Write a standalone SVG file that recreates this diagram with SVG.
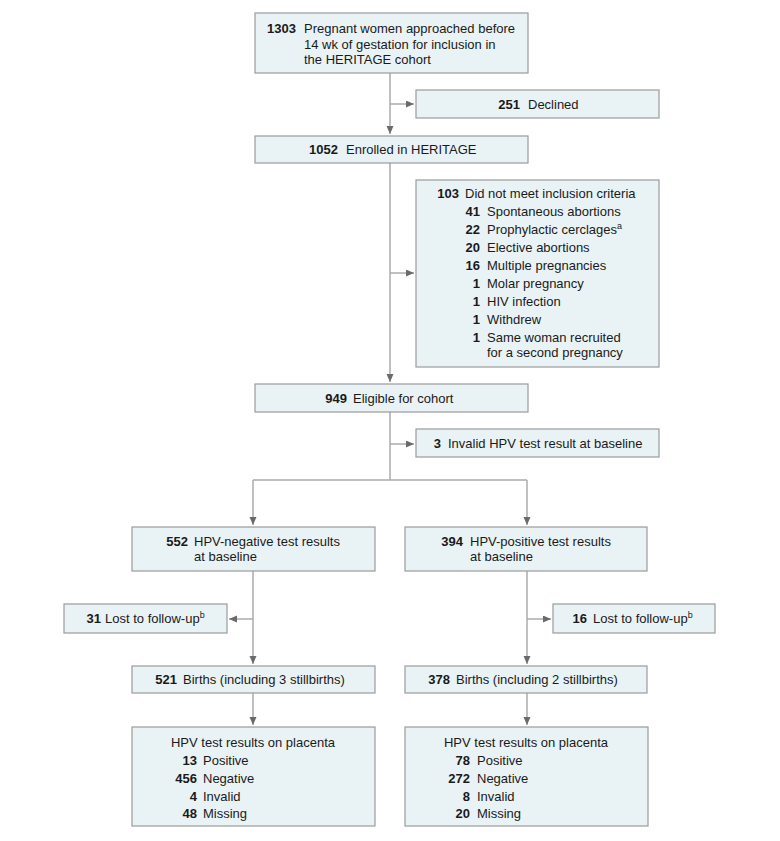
<svg xmlns="http://www.w3.org/2000/svg" width="780" height="841" viewBox="0 0 780 841">
<defs>
<style>
.box{fill:#e9f3f5;stroke:#9b9b9b;stroke-width:1.2}
.t{font-family:"Liberation Sans",Arial,sans-serif;font-size:13px;fill:#1a1a1a}
.n{font-weight:bold;text-anchor:end}
.c{text-anchor:middle}
.sup{font-size:9px}
.ln{fill:none;stroke:#ababab;stroke-width:1.5}
</style>
<marker id="ah" markerUnits="userSpaceOnUse" markerWidth="9" markerHeight="8" refX="8" refY="3.5" orient="auto">
<path d="M0,0 L8,3.5 L0,7 z" fill="#6a6a6a"/>
</marker>
</defs>
<rect width="780" height="841" fill="#ffffff"/>

<g id="connectors">
<path class="ln" d="M390,73 V134" marker-end="url(#ah)"/>
<path class="ln" d="M390,104 H414" marker-end="url(#ah)"/>
<path class="ln" d="M390,163 V382" marker-end="url(#ah)"/>
<path class="ln" d="M390,273 H414" marker-end="url(#ah)"/>
<path class="ln" d="M390,412 V480"/>
<path class="ln" d="M390,444 H414" marker-end="url(#ah)"/>
<path class="ln" d="M253,480 H527"/>
<path class="ln" d="M253,480 V525" marker-end="url(#ah)"/>
<path class="ln" d="M527,480 V525" marker-end="url(#ah)"/>
<path class="ln" d="M253,571 V664" marker-end="url(#ah)"/>
<path class="ln" d="M253,619 H229" marker-end="url(#ah)"/>
<path class="ln" d="M527,571 V664" marker-end="url(#ah)"/>
<path class="ln" d="M527,619 H551" marker-end="url(#ah)"/>
<path class="ln" d="M253,693 V725" marker-end="url(#ah)"/>
<path class="ln" d="M527,693 V725" marker-end="url(#ah)"/>
</g>

<g id="approached">
<rect class="box" x="255" y="13" width="273" height="60"/>
<text class="t n" x="296" y="33">1303</text>
<text class="t" x="304" y="33">Pregnant women approached before</text>
<text class="t" x="304" y="48.5">14 wk of gestation for inclusion in</text>
<text class="t" x="304" y="64">the HERITAGE cohort</text>
</g>

<g id="declined">
<rect class="box" x="416" y="90" width="243" height="28"/>
<text class="t n" x="520" y="109">251</text>
<text class="t" x="528" y="109">Declined</text>
</g>

<g id="enrolled">
<rect class="box" x="255" y="136" width="273" height="27"/>
<text class="t n" x="338" y="154">1052</text>
<text class="t" x="346" y="154">Enrolled in HERITAGE</text>
</g>

<g id="excluded">
<rect class="box" x="416" y="180" width="243" height="187"/>
<text class="t n" x="459" y="198">103</text>
<text class="t" x="465" y="198">Did not meet inclusion criteria</text>
<text class="t n" x="480" y="216">41</text>
<text class="t" x="487" y="216">Spontaneous abortions</text>
<text class="t n" x="480" y="234">22</text>
<text class="t" x="487" y="234">Prophylactic cerclages<tspan class="sup" dy="-5">a</tspan></text>
<text class="t n" x="480" y="252">20</text>
<text class="t" x="487" y="252">Elective abortions</text>
<text class="t n" x="480" y="270">16</text>
<text class="t" x="487" y="270">Multiple pregnancies</text>
<text class="t n" x="480" y="288">1</text>
<text class="t" x="487" y="288">Molar pregnancy</text>
<text class="t n" x="480" y="306">1</text>
<text class="t" x="487" y="306">HIV infection</text>
<text class="t n" x="480" y="324">1</text>
<text class="t" x="487" y="324">Withdrew</text>
<text class="t n" x="480" y="342">1</text>
<text class="t" x="487" y="342">Same woman recruited</text>
<text class="t" x="487" y="357">for a second pregnancy</text>
</g>

<g id="eligible">
<rect class="box" x="255" y="384" width="273" height="28"/>
<text class="t n" x="347" y="403">949</text>
<text class="t" x="353" y="403">Eligible for cohort</text>
</g>

<g id="invalid">
<rect class="box" x="416" y="429" width="243" height="28"/>
<text class="t n" x="441" y="448">3</text>
<text class="t" x="448" y="448">Invalid HPV test result at baseline</text>
</g>

<g id="hpvneg">
<rect class="box" x="132" y="527" width="243" height="44"/>
<text class="t n" x="188" y="546">552</text>
<text class="t" x="194" y="546">HPV-negative test results</text>
<text class="t" x="194" y="561">at baseline</text>
</g>

<g id="hpvpos">
<rect class="box" x="405" y="527" width="242" height="44"/>
<text class="t n" x="463" y="546">394</text>
<text class="t" x="470" y="546">HPV-positive test results</text>
<text class="t" x="470" y="561">at baseline</text>
</g>

<g id="lostneg">
<rect class="box" x="64" y="604" width="163" height="29"/>
<text class="t n" x="101" y="623">31</text>
<text class="t" x="105" y="623">Lost to follow-up<tspan class="sup" dy="-5">b</tspan></text>
</g>

<g id="lostpos">
<rect class="box" x="553" y="604" width="162" height="29"/>
<text class="t n" x="587" y="623">16</text>
<text class="t" x="593" y="623">Lost to follow-up<tspan class="sup" dy="-5">b</tspan></text>
</g>

<g id="birthsneg">
<rect class="box" x="132" y="666" width="243" height="27"/>
<text class="t n" x="177" y="684">521</text>
<text class="t" x="183" y="684">Births (including 3 stillbirths)</text>
</g>

<g id="birthspos">
<rect class="box" x="405" y="666" width="242" height="27"/>
<text class="t n" x="450" y="684">378</text>
<text class="t" x="456" y="684">Births (including 2 stillbirths)</text>
</g>

<g id="placentaneg">
<rect class="box" x="132" y="727" width="243" height="99"/>
<text class="t c" x="253" y="747">HPV test results on placenta</text>
<text class="t n" x="197" y="765">13</text>
<text class="t" x="203" y="765">Positive</text>
<text class="t n" x="197" y="783">456</text>
<text class="t" x="203" y="783">Negative</text>
<text class="t n" x="197" y="801">4</text>
<text class="t" x="203" y="801">Invalid</text>
<text class="t n" x="197" y="818">48</text>
<text class="t" x="203" y="818">Missing</text>
</g>

<g id="placentapos">
<rect class="box" x="405" y="727" width="243" height="99"/>
<text class="t c" x="526" y="747">HPV test results on placenta</text>
<text class="t n" x="470" y="765">78</text>
<text class="t" x="477" y="765">Positive</text>
<text class="t n" x="470" y="783">272</text>
<text class="t" x="477" y="783">Negative</text>
<text class="t n" x="470" y="801">8</text>
<text class="t" x="477" y="801">Invalid</text>
<text class="t n" x="470" y="818">20</text>
<text class="t" x="477" y="818">Missing</text>
</g>
</svg>
